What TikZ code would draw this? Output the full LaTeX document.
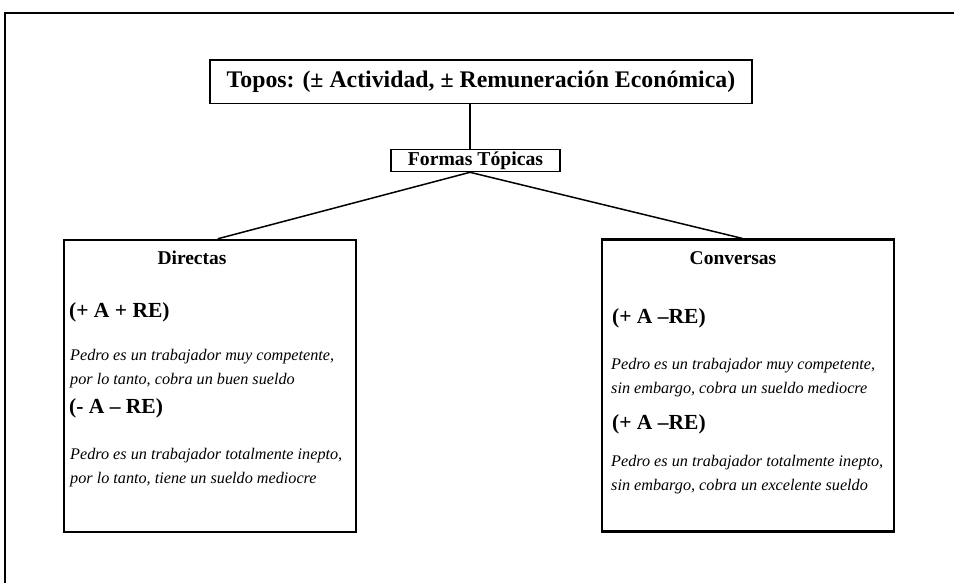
\documentclass[tikz,border=0pt]{standalone}
\usepackage{fontspec}
\setmainfont{Liberation Serif}
\begin{document}
\begin{tikzpicture}[x=1pt,y=-1pt,
  boxthin/.style={draw,line width=1.5pt,inner sep=0pt,minimum width=#1},
  bigbox/.style={draw,line width=2.2pt,inner sep=0pt,minimum width=292pt,minimum height=292pt},
  conn/.style={line width=1.5pt},
  head/.style={anchor=west,inner sep=0pt,font=\fontsize{21.5}{24}\selectfont\bfseries},
  title/.style={inner sep=0pt,font=\fontsize{19.5}{22}\selectfont\bfseries},
  ex/.style={anchor=west,inner sep=0pt,align=left,font=\fontsize{16.2}{24}\selectfont\itshape}]
\useasboundingbox (0,0) rectangle (954,583);
% outer frame (open to the right and bottom)
\draw[line width=1.3pt] (5,600) -- (5,13) -- (970,13);
% nodes
\node[boxthin=542pt,minimum height=43.5pt,font=\fontsize{23.8}{26}\selectfont\bfseries] (topos) at (481,81.75)
  {Topos: (± Actividad, ± Remuneración Económica)};
\node[boxthin=169pt,minimum height=22pt,line width=1.6pt,font=\fontsize{19.7}{22}\selectfont\bfseries] (formas) at (475.5,160.5)
  {Formas Tópicas};
\node[bigbox] (left) at (209.7,385.9) {};
\node[bigbox] (right) at (748.3,385.5) {};
% connectors
\draw[conn] ([xshift=-11pt]topos.south) -- ([xshift=-5.5pt]formas.north);
\draw[conn] ([xshift=-5.5pt]formas.south) -- ([xshift=8pt]left.north);
\draw[conn] ([xshift=-5.5pt]formas.south) -- ([xshift=-6pt]right.north);
% left box contents
\node[title] (dir) at (192,258) {Directas};
\node[head] (h1) at (69,312) {(+ A + RE)};
\node[ex] (e1) at (70,369) {Pedro es un trabajador muy competente,\\por lo tanto, cobra un buen sueldo};
\node[head] (h2) at (69,408) {(- A – RE)};
\node[ex] (e2) at (70,468) {Pedro es un trabajador totalmente inepto,\\por lo tanto, tiene un sueldo mediocre};
% right box contents
\node[title] (con) at (733,258) {Conversas};
\node[head] (h3) at (612,318) {(+ A –RE)};
\node[ex] (e3) at (611,378) {Pedro es un trabajador muy competente,\\sin embargo, cobra un sueldo mediocre};
\node[head] (h4) at (612,424) {(+ A –RE)};
\node[ex] (e4) at (611,475) {Pedro es un trabajador totalmente inepto,\\sin embargo, cobra un excelente sueldo};
\end{tikzpicture}
\end{document}
